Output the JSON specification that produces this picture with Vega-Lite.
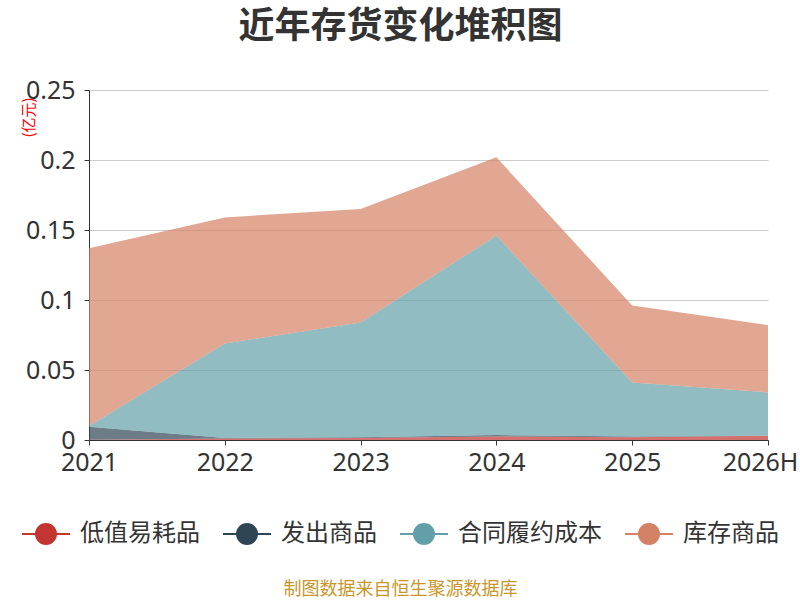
{
  "$schema": "https://vega.github.io/schema/vega-lite/v6.json",
  "autosize": "none",
  "width": 679,
  "height": 350,
  "padding": {"left": 89, "top": 90, "right": 32, "bottom": 160},
  "background": "white",
  "title": {
    "text": "近年存货变化堆积图",
    "fontSize": 36,
    "fontWeight": "bold",
    "color": "#333333",
    "font": "Noto Sans CJK SC",
    "anchor": "middle",
    "dx": -28,
    "offset": 32
  },
  "data": {
    "values": [
      {"year": "2021", "series": "低值易耗品", "idx": 0, "value": 0.0002},
      {"year": "2022", "series": "低值易耗品", "idx": 0, "value": 0.001},
      {"year": "2023", "series": "低值易耗品", "idx": 0, "value": 0.0015},
      {"year": "2024", "series": "低值易耗品", "idx": 0, "value": 0.0025},
      {"year": "2025", "series": "低值易耗品", "idx": 0, "value": 0.002},
      {"year": "2026H", "series": "低值易耗品", "idx": 0, "value": 0.003},
      {"year": "2021", "series": "发出商品", "idx": 1, "value": 0.0093},
      {"year": "2022", "series": "发出商品", "idx": 1, "value": 0.0005},
      {"year": "2023", "series": "发出商品", "idx": 1, "value": 0.0005},
      {"year": "2024", "series": "发出商品", "idx": 1, "value": 0.001},
      {"year": "2025", "series": "发出商品", "idx": 1, "value": 0.0005},
      {"year": "2026H", "series": "发出商品", "idx": 1, "value": 0.0},
      {"year": "2021", "series": "合同履约成本", "idx": 2, "value": 0.0005},
      {"year": "2022", "series": "合同履约成本", "idx": 2, "value": 0.0675},
      {"year": "2023", "series": "合同履约成本", "idx": 2, "value": 0.082},
      {"year": "2024", "series": "合同履约成本", "idx": 2, "value": 0.1425},
      {"year": "2025", "series": "合同履约成本", "idx": 2, "value": 0.0385},
      {"year": "2026H", "series": "合同履约成本", "idx": 2, "value": 0.031},
      {"year": "2021", "series": "库存商品", "idx": 3, "value": 0.127},
      {"year": "2022", "series": "库存商品", "idx": 3, "value": 0.09},
      {"year": "2023", "series": "库存商品", "idx": 3, "value": 0.081},
      {"year": "2024", "series": "库存商品", "idx": 3, "value": 0.056},
      {"year": "2025", "series": "库存商品", "idx": 3, "value": 0.055},
      {"year": "2026H", "series": "库存商品", "idx": 3, "value": 0.048}
    ]
  },
  "mark": {"type": "area", "opacity": 0.7},
  "encoding": {
    "x": {
      "field": "year",
      "type": "ordinal",
      "sort": null,
      "scale": {"type": "point", "padding": 0},
      "axis": {
        "title": "制图数据来自恒生聚源数据库",
        "titleX": 311,
        "titleY": 140,
        "titleAlign": "center",
        "titleColor": "#c9962b",
        "titleFontSize": 18,
        "titleFontWeight": "normal",
        "titleFont": "Noto Sans CJK SC",
        "labelAngle": 0,
        "labelFontSize": 25,
        "labelColor": "#333333",
        "labelFont": "Noto Sans",
        "labelPadding": 5,
        "labelAlign": "center",
        "labelOffset": {"condition": {"test": "datum.label == '2026H'", "value": -8}, "value": 0},
        "domainColor": "#333333",
        "tickColor": "#333333",
        "tickSize": 5,
        "grid": false
      }
    },
    "y": {
      "field": "value",
      "type": "quantitative",
      "stack": "zero",
      "scale": {"domain": [0, 0.25], "nice": false},
      "axis": {
        "values": [0, 0.05, 0.1, 0.15, 0.2, 0.25],
        "format": ".2~f",
        "title": "(亿元)",
        "titleColor": "#ff0000",
        "titleFontSize": 15,
        "titleFontWeight": "normal",
        "titleFont": "Noto Sans CJK SC",
        "titleX": -61,
        "titleY": 27,
        "titleAlign": "center",
        "titleBaseline": "middle",
        "labelFontSize": 25,
        "labelColor": "#333333",
        "labelFont": "Noto Sans",
        "labelPadding": 9,
        "domainColor": "#333333",
        "tickColor": "#333333",
        "tickSize": 5,
        "gridColor": "#cccccc"
      }
    },
    "color": {
      "field": "series",
      "type": "nominal",
      "scale": {
        "domain": ["低值易耗品", "发出商品", "合同履约成本", "库存商品"],
        "range": ["#c23531", "#2f4554", "#61a0a8", "#d48265"]
      },
      "legend": {
        "title": null,
        "orient": "none",
        "direction": "horizontal",
        "legendX": -55,
        "legendY": 432,
        "symbolType": "M-2.4,0H2.4M-1,0A1,1 0 1,1 1,0A1,1 0 1,1 -1,0",
        "symbolSize": 400,
        "symbolOpacity": 1,
        "labelFontSize": 24,
        "labelColor": "#333333",
        "labelFont": "Noto Sans CJK SC",
        "labelOffset": 22,
        "labelLimit": 300,
        "columnPadding": 19,
        "encode": {
          "symbols": {
            "update": {
              "stroke": {"scale": "color", "field": "value"},
              "strokeWidth": {"value": 2}
            }
          }
        }
      }
    },
    "order": {"field": "idx", "type": "quantitative"}
  },
  "config": {
    "view": {"stroke": null},
    "font": "Noto Sans CJK SC"
  }
}
